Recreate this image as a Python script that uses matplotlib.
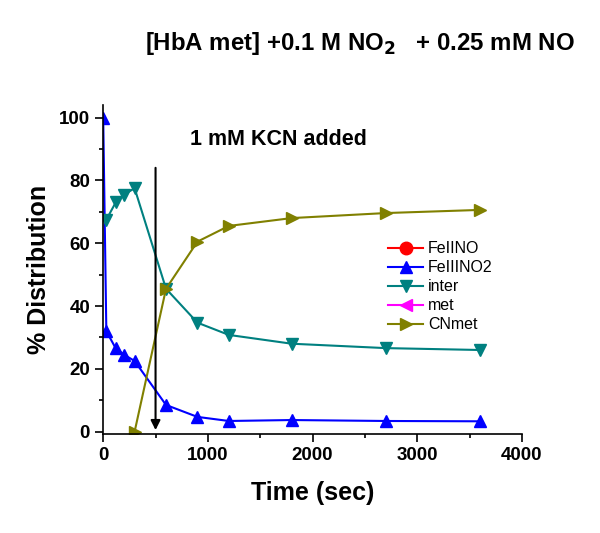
import matplotlib.pyplot as plt
from matplotlib.ticker import MultipleLocator

plt.rcParams['font.family'] = ['Liberation Sans', 'DejaVu Sans']

# data
t_no2 = [0, 30, 120, 200, 300, 600, 900, 1200, 1800, 2700, 3600]
feiiino2 = [100, 32, 26.5, 24.5, 22.5, 8.5, 4.7, 3.4, 3.7, 3.4, 3.3]

t_inter = [30, 120, 200, 300, 600, 900, 1200, 1800, 2700, 3600]
inter = [67.5, 73, 75.5, 77.5, 45.5, 34.7, 30.8, 28, 26.6, 26]

t_cn = [300, 600, 900, 1200, 1800, 2700, 3600]
cnmet = [0, 45.5, 60.5, 65.5, 68, 69.6, 70.6]

kcn_time = 500

fig = plt.figure(figsize=(6, 5.33), dpi=100)
ax = fig.add_axes([0.172, 0.186, 0.698, 0.617])

ax.plot([], [], '-o', color='red', lw=1.5, ms=9, label='FeIINO')
ax.plot(t_no2, feiiino2, '-^', color='blue', lw=1.5, ms=9, label='FeIIINO2')
ax.plot(t_inter, inter, '-v', color='#008080', lw=1.5, ms=9, label='inter')
ax.plot([], [], '-<', color='magenta', lw=1.5, ms=9, label='met')
ax.plot(t_cn, cnmet, '->', color='#808000', lw=1.5, ms=9, label='CNmet')

ax.annotate('', xy=(kcn_time, 0.5), xytext=(kcn_time, 84),
            arrowprops=dict(arrowstyle='-|>', color='black', lw=1.5,
                            mutation_scale=14, shrinkA=0, shrinkB=0))
ax.text(1670, 93, '1 mM KCN added', ha='center', va='center',
        fontsize=15.5, fontweight='bold')

ax.set_xlim(0, 4000)
ax.set_ylim(-0.7, 104)
ax.xaxis.set_major_locator(MultipleLocator(1000))
ax.xaxis.set_minor_locator(MultipleLocator(500))
ax.yaxis.set_major_locator(MultipleLocator(20))
ax.yaxis.set_minor_locator(MultipleLocator(10))
ax.tick_params(which='both', direction='out', width=1.2)
ax.tick_params(which='major', length=6, labelsize=13.5)
ax.tick_params(which='minor', length=3)
for lab in ax.get_xticklabels() + ax.get_yticklabels():
    lab.set_fontweight('bold')
for s in ['top', 'right']:
    ax.spines[s].set_visible(False)
for s in ['left', 'bottom']:
    ax.spines[s].set_linewidth(1.2)

ax.set_xlabel('Time (sec)', fontsize=18, fontweight='bold', labelpad=12)
ax.set_ylabel('% Distribution', fontsize=18, fontweight='bold', labelpad=6)

ax.legend(loc='upper left', bbox_to_anchor=(0.68, 0.585), frameon=False,
          fontsize=11.5, handlelength=2.2, handletextpad=0.3,
          labelspacing=0.25, borderpad=0, borderaxespad=0)

fig.text(0.6, 0.919, '[HbA met] +0.1 M NO$_\\mathbf{2}$   + 0.25 mM NO',
         ha='center', va='center', fontsize=17.3, fontweight='bold')

fig.savefig('out.png', dpi=100)
